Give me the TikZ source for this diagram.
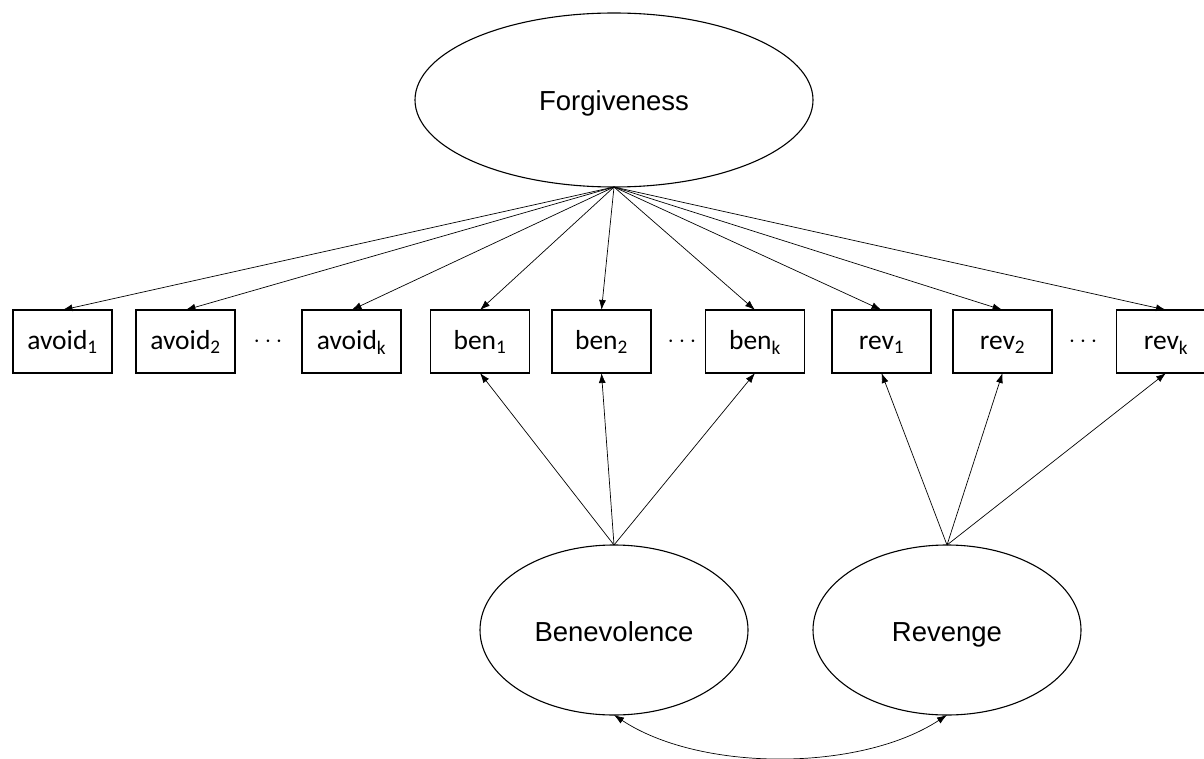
\documentclass[tikz,border=0pt]{standalone}
\usepackage{fontspec}
\setmainfont{Liberation Sans}
\newfontfamily\carlito{Carlito}
\usetikzlibrary{shapes.geometric,arrows.meta}
\begin{document}
\begin{tikzpicture}[x=1pt,y=-1pt,
  latent/.style={draw, line width=1.1pt, ellipse, inner sep=0pt, outer sep=0pt,
     minimum width=268pt, minimum height=170pt, text height=24pt, text depth=2pt,
     font=\fontsize{27.5}{32}\selectfont},
  obs/.style={draw, line width=1.1pt, rectangle, inner sep=0pt, outer sep=0pt,
     minimum width=99pt, minimum height=63pt, text height=21pt, text depth=5pt,
     font=\carlito\fontsize{27.5}{32}\selectfont},
  dotsnode/.style={inner sep=0pt, font=\fontsize{26}{30}\selectfont},
  conn/.style={line width=0.7pt, -{Latex[length=10pt,width=7pt]}}
]
\useasboundingbox (0,0) rectangle (1204,759);
\node[latent, minimum width=398pt, minimum height=174pt] (F) at (614,100) {Forgiveness};
\node[latent] (B) at (614,630) {Benevolence};
\node[latent] (R) at (947,630) {Revenge};

\node[obs] (a1) at (62.5,341.5) {avoid\textsubscript{1}};
\node[obs] (a2) at (185.5,341.5) {avoid\textsubscript{2}};
\node[dotsnode] (ad) at (268,341.5) {$\cdots$};
\node[obs] (ak) at (351.5,341.5) {avoid\textsubscript{k}};
\node[obs] (b1) at (480,341.5) {ben\textsubscript{1}};
\node[obs] (b2) at (601.5,341.5) {ben\textsubscript{2}};
\node[dotsnode] (bd) at (682,341.5) {$\cdots$};
\node[obs] (bk) at (755,341.5) {ben\textsubscript{k}};
\node[obs] (r1) at (881.5,341.5) {rev\textsubscript{1}};
\node[obs] (r2) at (1002.5,341.5) {rev\textsubscript{2}};
\node[dotsnode] (rd) at (1083,341.5) {$\cdots$};
\node[obs] (rk) at (1166,341.5) {rev\textsubscript{k}};

\foreach \n in {a1,a2,ak,b1,b2,bk,r1,r2,rk}
  \draw[conn] (F.south) -- (\n.north);
\foreach \n in {b1,b2,bk}
  \draw[conn] (B.north) -- (\n.south);
\foreach \n in {r1,r2,rk}
  \draw[conn] (R.north) -- (\n.south);

\draw[line width=0.7pt, {Latex[length=10pt,width=7pt]}-{Latex[length=10pt,width=7pt]}]
  (B.south) .. controls (700,772) and (860,772) .. (R.south);
\end{tikzpicture}
\end{document}
